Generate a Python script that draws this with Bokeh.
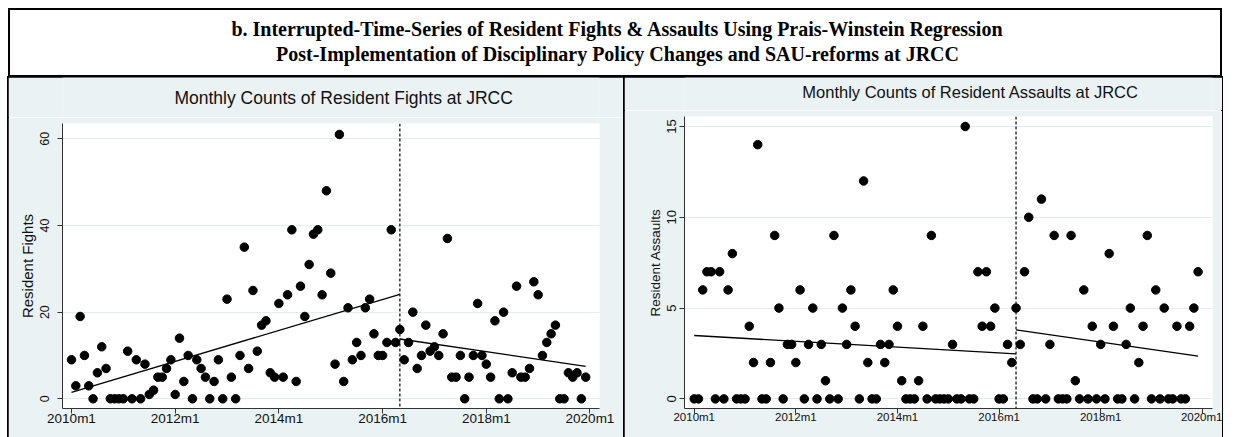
import math
from bokeh.plotting import figure
from bokeh.layouts import column, row
from bokeh.models import Range1d, FixedTicker, Span, Spacer
from bokeh.core.properties import value
from bokeh.embed import file_html
from bokeh.resources import INLINE

# ---------------- data ----------------
title_lines = [
    "b. Interrupted-Time-Series of Resident Fights & Assaults Using Prais-Winstein Regression",
    "Post-Implementation of Disciplinary Policy Changes and SAU-reforms at JRCC",
]
panel_titles = ["Monthly Counts of Resident Fights at JRCC",
                "Monthly Counts of Resident Assaults at JRCC"]
y_labels = ["Resident Fights", "Resident Assaults"]
months = [f"{2010 + i // 12}m{i % 12 + 1}" for i in range(120)]  # 2010m1 .. 2019m12

fights = [9, 3, 19, 10, 3, 0, 6, 12, 7, 0, 0, 0,
          0, 11, 0, 9, 0, 8, 1, 2, 5, 5, 7, 9,
          1, 14, 4, 10, 0, 9, 7, 5, 0, 4, 9, 0,
          23, 5, 0, 10, 35, 7, 25, 11, 17, 18, 6, 5,
          22, 5, 24, 39, 4, 26, 19, 31, 38, 39, 24, 48,
          29, 8, 61, 4, 21, 9, 13, 10, 21, 23, 15, 10,
          10, 13, 39, 13, 16, 9, 13, 20, 7, 10, 17, 11,
          12, 10, 15, 37, 5, 5, 10, 0, 5, 10, 22, 10,
          8, 5, 18, 0, 20, 0, 6, 26, 5, 5, 7, 27,
          24, 10, 13, 15, 17, 0, 0, 6, 5, 6, 0, 5]

assaults = [0, 0, 6, 7, 7, 0, 7, 0, 6, 8, 0, 0,
            0, 4, 2, 14, 0, 0, 2, 9, 5, 0, 3, 3,
            2, 6, 0, 3, 5, 0, 3, 1, 0, 9, 0, 5,
            3, 6, 4, 0, 12, 2, 0, 0, 3, 2, 3, 6,
            4, 1, 0, 0, 0, 1, 4, 0, 9, 0, 0, 0,
            0, 3, 0, 0, 15, 0, 0, 7, 4, 7, 4, 5,
            0, 0, 3, 2, 5, 3, 7, 10, 0, 0, 11, 0,
            3, 9, 0, 0, 0, 9, 1, 0, 6, 0, 4, 0,
            3, 0, 8, 4, 0, 0, 3, 5, 0, 2, 4, 9,
            0, 6, 0, 5, 0, 0, 4, 0, 0, 4, 5, 7]

intervention = "2016m5"
x_tick_labels = ["2010m1", "2012m1", "2014m1", "2016m1", "2018m1", "2020m1"]
fights_yticks = [0, 20, 40, 60]
assaults_yticks = [0, 5, 10, 15]
# Prais-Winsten fitted values at segment ends (start, end)
fights_fit_pre = [1.5, 24.1]
fights_fit_post = [13.8, 7.5]
assaults_fit_pre = [3.49, 2.48]
assaults_fit_post = [3.8, 2.35]

# ---------------- helpers ----------------
BG = "#EAF2F3"
FONT = "Liberation Sans"
TXT = "#111111"


def midx(s):
    y, m = s.split("m")
    return (int(y) - 2010) * 12 + int(m) - 1


def panel(title, ylabel, values, fit_pre, fit_post, yticks, width, strip_h, title_y,
          borders, xr, yr, title_size, xtick_size, ytick_size, ylabel_size,
          ytick_standoff, ylabel_standoff, msize):
    left, right, top, bottom = borders
    total_h = 360
    # title strip
    st = figure(width=width, height=strip_h, x_range=Range1d(0, width),
                y_range=Range1d(strip_h, 0), output_backend="svg",
                toolbar_location=None, min_border=0,
                x_axis_location=None, y_axis_location=None,
                background_fill_color=BG, border_fill_color=BG,
                outline_line_color=None)
    st.grid.visible = False
    st.text(x=[(left + width - right) / 2], y=[title_y], text=[title],
            text_font=value(FONT), text_font_size=title_size, text_color=TXT,
            text_align="center", text_baseline="middle")

    p = figure(width=width, height=total_h - strip_h, x_range=Range1d(*xr),
               y_range=Range1d(*yr), output_backend="svg", toolbar_location=None,
               min_border_left=left, min_border_right=right,
               min_border_top=top, min_border_bottom=bottom,
               background_fill_color="white", border_fill_color=BG,
               outline_line_color=None)

    xs = list(range(len(months)))
    iv = midx(intervention)
    p.scatter(xs, values, size=msize, color="black", line_color="black")
    p.line([0, iv], fit_pre, line_color="black", line_width=1.3)
    p.line([iv, len(months) - 1], fit_post, line_color="black", line_width=1.3)
    p.add_layout(Span(location=iv, dimension="height", line_color="black",
                      line_width=1.2, line_dash="3 2"))

    ticks = [midx(t) for t in x_tick_labels]
    p.xaxis.ticker = FixedTicker(ticks=ticks)
    p.xaxis.major_label_overrides = {t: s for t, s in zip(ticks, x_tick_labels)}
    p.yaxis.ticker = FixedTicker(ticks=yticks)
    p.yaxis.axis_label = ylabel
    p.yaxis.major_label_orientation = "parallel"
    p.xaxis.major_label_text_font_size = xtick_size
    p.yaxis.major_label_text_font_size = ytick_size
    p.yaxis.axis_label_text_font_size = ylabel_size
    p.yaxis.axis_label_text_font_style = "normal"
    p.yaxis.axis_label_standoff = ylabel_standoff
    p.yaxis.major_label_standoff = ytick_standoff
    p.xaxis.major_label_standoff = -3
    for ax in (p.xaxis, p.yaxis):
        ax.major_label_text_font = FONT
        ax.axis_label_text_font = FONT
        ax.major_label_text_color = TXT
        ax.axis_label_text_color = TXT
        ax.axis_line_color = "#333333"
        ax.major_tick_line_color = "#333333"
        ax.minor_tick_line_color = None
        ax.major_tick_in = 0
        ax.major_tick_out = 5
    p.xgrid.visible = False
    p.ygrid.grid_line_color = "#E3ECEE"
    p.ygrid.grid_line_width = 1.2

    col = column(st, p, spacing=0)
    col.styles = {"outline": "2px solid black", "outline-offset": "-1px"}
    return col


left = panel(panel_titles[0], y_labels[0], fights, fights_fit_pre, fights_fit_post,
             fights_yticks, 616, 40, 20, (54, 25, 6, 29),
             (-2.08, 122.2), (-2.24, 63.53), "17.5px", "13.5px", "12.5px", "15px",
             8, 2, 8.5)
right = panel(panel_titles[1], y_labels[1], assaults, assaults_fit_pre, assaults_fit_post,
              assaults_yticks, 598, 33, 14, (60, 10, 6, 29),
              (-2.3, 122.4), (-0.53, 15.55), "16.5px", "11.5px", "13px", "13.5px",
              3, 2, 8.5)

tp = figure(width=1214, height=69, x_range=Range1d(0, 1214), y_range=Range1d(69, 0),
            output_backend="svg", toolbar_location=None, min_border=0,
            x_axis_location=None, y_axis_location=None,
            background_fill_color="white", border_fill_color="white",
            outline_line_color="black", outline_line_width=3)
tp.grid.visible = False
tp.text(x=[609, 609], y=[20, 45], text=title_lines,
        text_font=value("Liberation Serif"), text_font_style="bold",
        text_font_size="20px", text_align="center", text_baseline="middle",
        text_color="black")

body = column(tp, row(left, right, spacing=0), spacing=0)
layout = column(Spacer(height=8, width=1222),
                row(Spacer(width=8, height=429), body, spacing=0), spacing=0)
open("out.html", "w").write(file_html(layout, INLINE))
